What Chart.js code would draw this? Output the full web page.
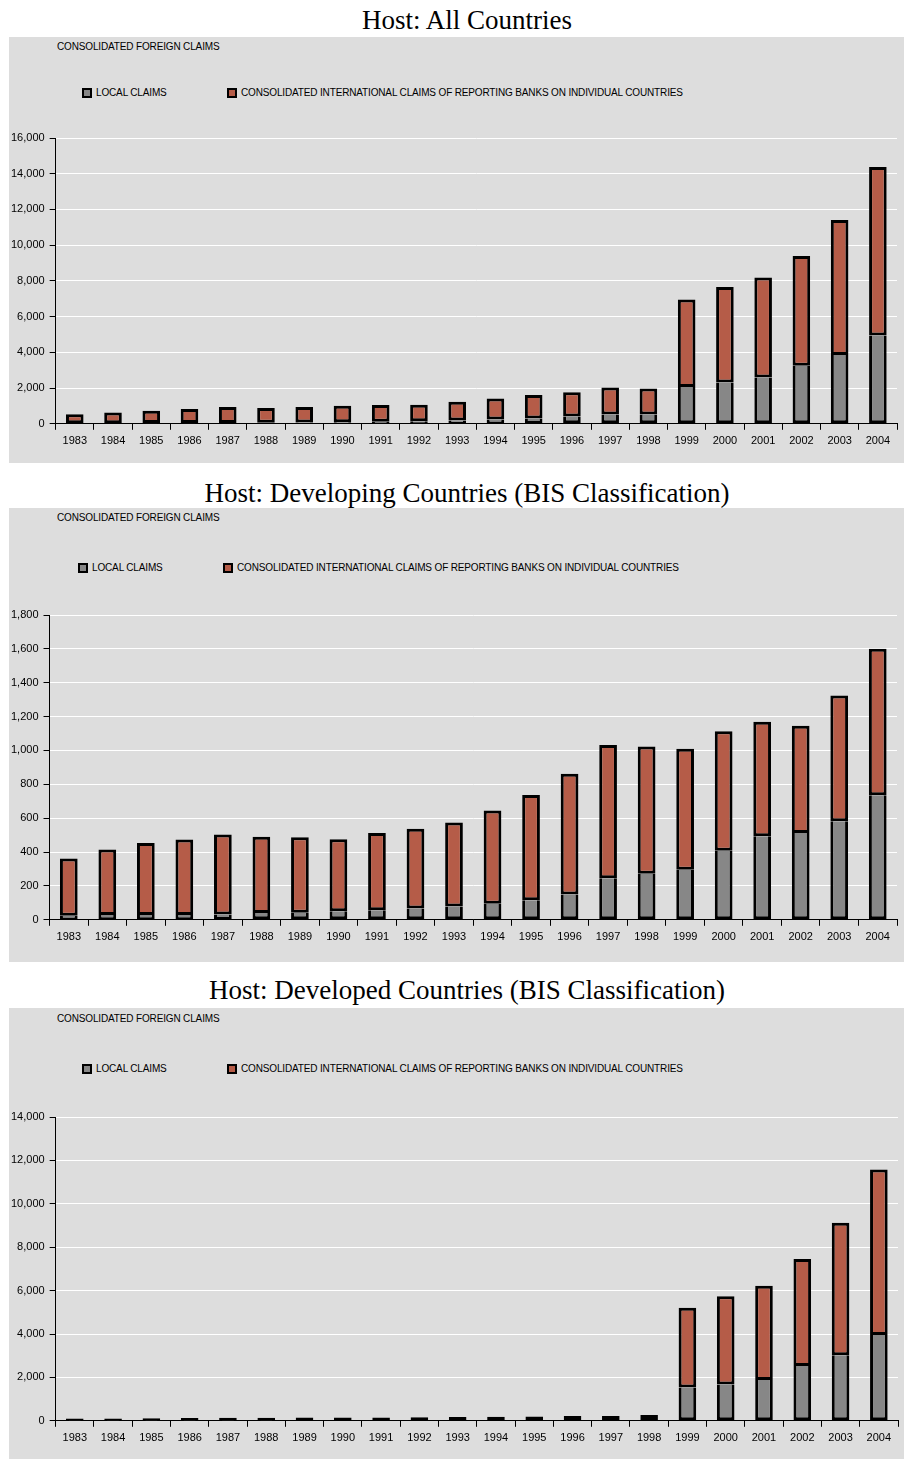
<!DOCTYPE html>
<html>
<head>
<meta charset="utf-8">
<title>Consolidated foreign claims</title>
<script src="https://cdn.jsdelivr.net/npm/chart.js@4.4.1/dist/chart.umd.min.js"></script>
<style>
  body { margin: 0; background: #fff; width: 904px; height: 1459px; position: relative; overflow: hidden; }
  .host { position: absolute; left: 0; width: 934px; text-align: center; color: #000;
          font: 27px "Liberation Serif", "Times New Roman", serif; line-height: 27px; }
  .panel { position: absolute; left: 9px; width: 895px; background: #dddddd; }
  .panel canvas { position: absolute; left: 0; top: 0; }
  .sub, .legend { position: absolute; font: 10px "Liberation Sans", Arial, sans-serif;
                  letter-spacing: -0.15px; line-height: 12px; color: #000; white-space: nowrap; }
  .sub { left: 48px; }
  .legend .item { position: absolute; top: 0; display: flex; align-items: center; }
  .legend .item + .item { left: 145px; }
  .legend .swatch { width: 6px; height: 6px; border: 2px solid #000; margin-right: 4px; }
</style>
</head>
<body>

<div class="host" style="top:7px">Host: All Countries</div>
<div class="panel" id="p1" style="top:37px;height:426px">
  <div class="sub" style="top:4px">CONSOLIDATED FOREIGN CLAIMS</div>
  <div class="legend" style="left:73px;top:50px"></div>
  <canvas id="c1" width="895" height="426"></canvas>
</div>

<div class="host" style="top:480px">Host: Developing Countries (BIS Classification)</div>
<div class="panel" id="p2" style="top:508px;height:454px">
  <div class="sub" style="top:4px">CONSOLIDATED FOREIGN CLAIMS</div>
  <div class="legend" style="left:69px;top:54px"></div>
  <canvas id="c2" width="895" height="454"></canvas>
</div>

<div class="host" style="top:977px">Host: Developed Countries (BIS Classification)</div>
<div class="panel" id="p3" style="top:1008px;height:451px">
  <div class="sub" style="top:5px">CONSOLIDATED FOREIGN CLAIMS</div>
  <div class="legend" style="left:73px;top:55px"></div>
  <canvas id="c3" width="895" height="451"></canvas>
</div>

<script>
const years = ['1983', '1984', '1985', '1986', '1987', '1988', '1989', '1990', '1991', '1992', '1993',
               '1994', '1995', '1996', '1997', '1998', '1999', '2000', '2001', '2002', '2003', '2004'];

const localLabel = 'LOCAL CLAIMS';
const intlLabel = 'CONSOLIDATED INTERNATIONAL CLAIMS OF REPORTING BANKS ON INDIVIDUAL COUNTRIES';

// all countries (USD bn)
const allLocal = [30, 35, 40, 45, 50, 60, 70, 90, 110, 140, 190, 240, 290, 410, 520, 520,
                  2060, 2310, 2590, 3250, 3850, 4940];
const allIntl = [500, 595, 690, 785, 890, 830, 870, 920, 940, 930, 1050, 1170, 1320, 1360, 1510, 1450,
                 4900, 5350, 5600, 6140, 7560, 9430];

// developing countries
const devingLocal = [24, 28, 28, 28, 31, 40, 42, 51, 57, 67, 78, 95, 116, 150, 246, 272,
                     296, 408, 493, 512, 582, 736];
const devingIntl = [338, 387, 426, 446, 473, 450, 446, 425, 456, 470, 496, 550, 621, 712, 786, 752,
                    714, 706, 676, 634, 743, 865];

// developed countries
const devedLocal = [5, 5, 5, 5, 5, 5, 10, 10, 10, 10, 10, 15, 15, 20, 20, 40,
                    1540, 1677, 1880, 2526, 3016, 3958];
const devedIntl = [100, 105, 115, 125, 130, 135, 140, 145, 145, 150, 165, 170, 180, 200, 205, 230,
                   3665, 4065, 4342, 4925, 6116, 7622];

const yMax1 = 16000, yStep1 = 2000;
const yMax2 = 1800, yStep2 = 200;
const yMax3 = 14000, yStep3 = 2000;

const GREY = '#878787';
const RED = '#b55c48';
const TICK_FONT = { family: '"Liberation Sans", Arial, sans-serif', size: 11 };

function makeChart(id, local, intl, yMax, yStep, pad) {
    const chart = new Chart(document.getElementById(id), {
        type: 'bar',
        data: {
            labels: years,
            datasets: [
                {
                    label: localLabel,
                    data: local,
                    backgroundColor: GREY,
                    borderColor: '#000',
                    borderWidth: 3,
                    borderSkipped: 'top'   // the red segment's outline closes the join
                },
                {
                    label: intlLabel,
                    data: intl,
                    backgroundColor: RED,
                    borderColor: '#000',
                    borderWidth: 3,
                    borderSkipped: false
                }
            ]
        },
        options: {
            responsive: false,
            animation: false,
            layout: { padding: pad },
            datasets: { bar: { barPercentage: 0.46, categoryPercentage: 1 } },
            plugins: {
                legend: { display: false },
                tooltip: { enabled: false }
            },
            scales: {
                x: {
                    stacked: true,
                    grid: { drawOnChartArea: false, color: '#000', tickLength: 6 },
                    border: { color: '#000' },
                    ticks: { color: '#000', font: TICK_FONT, padding: 5, maxRotation: 0, autoSkip: false }
                },
                y: {
                    stacked: true,
                    min: 0,
                    max: yMax,
                    grid: {
                        color: c => (c.tick && c.tick.value === 0 ? '#000' : '#ffffff'),
                        tickColor: '#000',
                        tickLength: 6
                    },
                    border: { color: '#000' },
                    ticks: {
                        stepSize: yStep,
                        color: '#000',
                        font: TICK_FONT,
                        padding: 5,
                        callback: v => v.toLocaleString('en-US')
                    }
                }
            }
        }
    });

    // legend drawn as html above the plot
    const legend = document.getElementById(id).parentNode.querySelector('.legend');
    chart.data.datasets.forEach(ds => {
        const item = document.createElement('span');
        item.className = 'item';
        const sw = document.createElement('span');
        sw.className = 'swatch';
        sw.style.background = ds.backgroundColor;
        item.appendChild(sw);
        item.appendChild(document.createTextNode(ds.label));
        legend.appendChild(item);
    });
    return chart;
}

makeChart('c1', allLocal, allIntl, yMax1, yStep1, { top: 101, left: -3, right: 7, bottom: 10 });
makeChart('c2', devingLocal, devingIntl, yMax2, yStep2, { top: 107, left: -3, right: 7, bottom: 13 });
makeChart('c3', devedLocal, devedIntl, yMax3, yStep3, { top: 109, left: -3, right: 6, bottom: 9 });
</script>
</body>
</html>
